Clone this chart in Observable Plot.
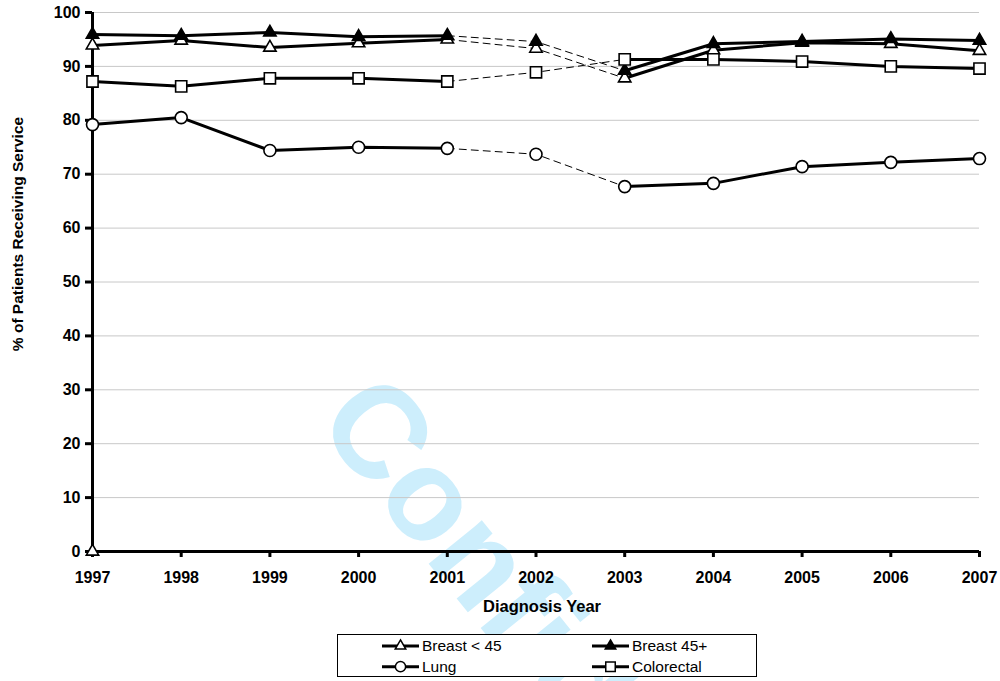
<!DOCTYPE html>
<html><head><meta charset="utf-8">
<script src="https://cdn.jsdelivr.net/npm/d3@7"></script>
<script src="https://cdn.jsdelivr.net/npm/@observablehq/plot@0.6"></script>
<style>
html,body{margin:0;padding:0;background:#fff;}
body{width:1000px;height:681px;position:relative;overflow:hidden;font-family:"Liberation Sans",Arial,sans-serif;}
#wm{position:absolute;left:0;top:0;z-index:0;}
#chart{position:absolute;left:0;top:0;z-index:1;}
#legend{position:absolute;left:337px;top:634px;width:418px;height:41px;border:1px solid #000;background:#fff;z-index:2;}
#legend svg{display:block;}
</style></head><body>
<svg id="wm" width="1000" height="681"></svg>
<div id="chart"></div>
<div id="legend"></div>
<script>
const years = [1997,1998,1999,2000,2001,2002,2003,2004,2005,2006,2007];
const breastUnder45 = [93.9,94.8,93.5,94.3,95.0,93.3,87.8,93.0,94.4,94.2,92.9];
const breast45Plus = [95.9,95.7,96.3,95.5,95.7,94.6,89.2,94.2,94.6,95.1,94.8];
const lung = [79.2,80.5,74.4,75.0,74.8,73.7,67.7,68.3,71.4,72.2,72.9];
const colorectal = [87.2,86.3,87.8,87.8,87.2,88.9,91.3,91.3,90.9,90.0,89.6];
const seriesNames = ["Breast < 45","Breast 45+","Lung","Colorectal"];
const seriesSymbols = ["triangle","triangle","circle","square"];
const seriesFills = ["white","black","white","white"];
const yTicks = [0,10,20,30,40,50,60,70,80,90,100];
const gapStart = 2001, gapEnd = 2003; // dashed connection years
const strayYears = [1997];
const strayValues = [0];
const xTitle = "Diagnosis Year";
const yTitle = "% of Patients Receiving Service";
const watermarkText = "Confidential";

const seriesValues = [breastUnder45, breast45Plus, lung, colorectal];
const rows = [];
seriesNames.forEach((s, i) => {
  years.forEach((yr, j) => {
    rows.push({series: s, year: yr, value: seriesValues[i][j],
      seg: yr <= gapStart ? "a" : yr >= gapEnd ? "b" : null});
  });
});
const stray = strayYears.map((y, i) => ({year: y, value: strayValues[i]}));

const symbolSize = {triangle: 4.6, circle: 6, square: 6.3};

const dotMarks = seriesNames.map((s, i) =>
  Plot.dot(rows.filter(d => d.series === s), {
    x: "year", y: "value", symbol: seriesSymbols[i], r: symbolSize[seriesSymbols[i]],
    fill: seriesFills[i], stroke: "black", strokeWidth: 1.6
  })
);

const chart = Plot.plot({
  width: 1000, height: 615,
  marginLeft: 92, marginRight: 21, marginTop: 12, marginBottom: 64,
  style: {background: "transparent", fontFamily: "'Liberation Sans', Arial, sans-serif", fontSize: "16px", fontWeight: "bold", color: "black", overflow: "visible"},
  x: {domain: [1997, 2007]},
  y: {domain: [0, 100]},
  marks: [
    Plot.gridY(yTicks, {stroke: "#c8c8c8", strokeOpacity: 1, strokeWidth: 1}),
    Plot.axisY({ticks: yTicks, tickSize: 7, tickPadding: 5, strokeWidth: 3, label: null}),
    Plot.axisX({ticks: years, tickSize: 6, tickPadding: 14, strokeWidth: 3, tickFormat: d => String(d), label: null}),
    Plot.ruleX([1997], {strokeWidth: 3}),
    Plot.ruleY([0], {strokeWidth: 3}),
    Plot.line(rows.filter(d => d.seg), {x: "year", y: "value", z: d => d.series + d.seg, stroke: "black", strokeWidth: 3}),
    Plot.line(rows.filter(d => d.year >= gapStart && d.year <= gapEnd), {x: "year", y: "value", z: "series", stroke: "black", strokeWidth: 1, strokeDasharray: "7,5"}),
    Plot.dot(stray, {x: "year", y: "value", symbol: "triangle", r: 4.6, fill: "white", stroke: "black", strokeWidth: 1.6}),
    ...dotMarks,
    Plot.text([xTitle], {frameAnchor: "bottom", dx: 6, dy: 55, lineAnchor: "middle", textAnchor: "middle", fontSize: 16.5, fontWeight: "bold"}),
    Plot.text([yTitle], {frameAnchor: "left", dx: -74, dy: -48, rotate: -90, lineAnchor: "middle", textAnchor: "middle", fontSize: 15.5, fontWeight: "bold"})
  ]
});
document.getElementById("chart").appendChild(chart);

// watermark
d3.select("#wm").append("text")
  .attr("transform", "translate(314,422) rotate(51)")
  .attr("font-family", "'Liberation Sans', Arial, sans-serif")
  .attr("font-weight", "bold")
  .attr("font-size", 130)
  .attr("fill", "#cdeefc")
  .text(watermarkText);

// legend
const lg = d3.select("#legend").append("svg").attr("width", 418).attr("height", 41);
const colX = [44, 254];
const rowY = [11, 31.7];
seriesNames.forEach((s, i) => {
  const cx = colX[i % 2], cy = rowY[Math.floor(i / 2)];
  const g = lg.append("g");
  g.append("line").attr("x1", cx).attr("x2", cx + 37).attr("y1", cy).attr("y2", cy).attr("stroke", "black").attr("stroke-width", 3);
  const sym = seriesSymbols[i] === "triangle" ? d3.symbolTriangle : seriesSymbols[i] === "circle" ? d3.symbolCircle : d3.symbolSquare;
  const r = symbolSize[seriesSymbols[i]] * 0.85;
  g.append("path").attr("transform", `translate(${cx + 18.5},${cy})`)
    .attr("d", d3.symbol(sym, Math.PI * r * r)())
    .attr("fill", seriesFills[i]).attr("stroke", "black").attr("stroke-width", 1.5);
  g.append("text").attr("x", cx + 40).attr("y", cy).attr("dy", "0.35em")
    .attr("font-family", "'Liberation Sans', Arial, sans-serif").attr("font-size", 15.5).text(s);
});
</script>
</body></html>
